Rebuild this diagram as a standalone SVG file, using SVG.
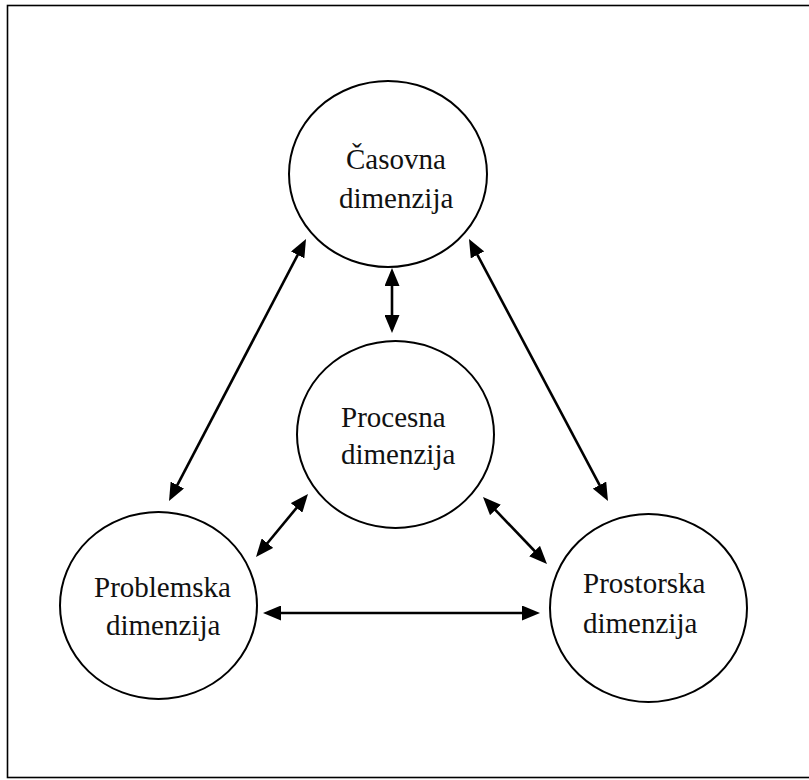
<svg xmlns="http://www.w3.org/2000/svg" width="809" height="780" viewBox="0 0 809 780">
<style>
.node ellipse{fill:#fff;stroke:#000;stroke-width:2}
.node text{font-family:"Liberation Serif","Times New Roman",serif;font-size:29px;fill:#111}
.conn line{stroke:#000;stroke-width:2.6;marker-start:url(#ah);marker-end:url(#ah)}
</style>
<defs>
<marker id="ah" markerUnits="userSpaceOnUse" markerWidth="18" markerHeight="15" refX="8" refY="7.5" orient="auto-start-reverse" viewBox="0 0 18 15">
<path d="M0,0 L18,7.5 L0,15 z" fill="#000"/>
</marker>
</defs>
<rect x="7.5" y="5.5" width="810" height="772" fill="#fff" stroke="#000" stroke-width="1.6"/>
<g id="connectors" class="conn">
<line x1="392" y1="278" x2="392" y2="323"/>
<line x1="301.37" y1="247.86" x2="173.63" y2="492.14"/>
<line x1="473.69" y1="247.83" x2="603.31" y2="492.17"/>
<line x1="301.63" y1="501.71" x2="262.37" y2="549.29"/>
<line x1="489.91" y1="504.23" x2="540.09" y2="556.77"/>
<line x1="273" y1="613" x2="530" y2="613"/>
</g>
<g id="casovna" class="node">
<ellipse cx="388" cy="174" rx="99" ry="93"/>
<text x="346" y="169">Časovna</text>
<text x="339" y="208">dimenzija</text>
</g>
<g id="procesna" class="node">
<ellipse cx="395.5" cy="434.5" rx="98.5" ry="93.5"/>
<text x="341" y="427">Procesna</text>
<text x="341" y="464">dimenzija</text>
</g>
<g id="problemska" class="node">
<ellipse cx="158.5" cy="605.5" rx="98.5" ry="93.5"/>
<text x="94" y="597">Problemska</text>
<text x="106" y="635">dimenzija</text>
</g>
<g id="prostorska" class="node">
<ellipse cx="648.5" cy="608" rx="98.5" ry="94"/>
<text x="583" y="593">Prostorska</text>
<text x="583" y="633">dimenzija</text>
</g>
</svg>
